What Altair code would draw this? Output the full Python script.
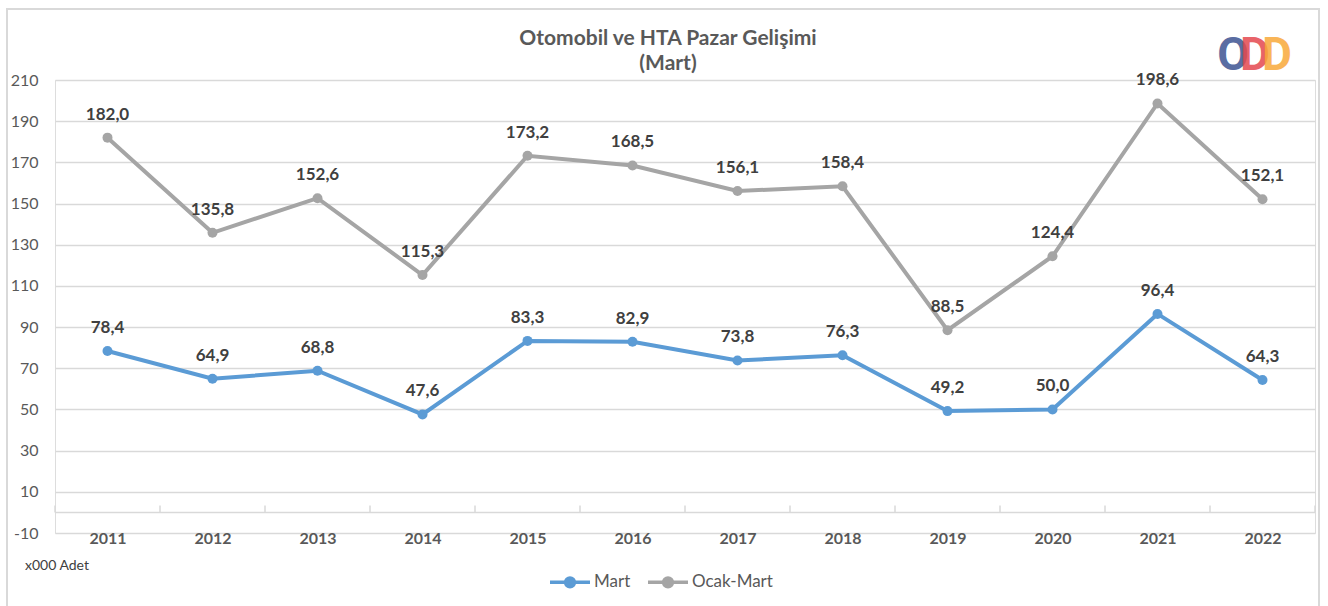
import altair as alt
import pandas as pd

years = ["2011", "2012", "2013", "2014", "2015", "2016", "2017", "2018", "2019", "2020", "2021", "2022"]
mart = [78.4, 64.9, 68.8, 47.6, 83.3, 82.9, 73.8, 76.3, 49.2, 50.0, 96.4, 64.3]
ocak_mart = [182.0, 135.8, 152.6, 115.3, 173.2, 168.5, 156.1, 158.4, 88.5, 124.4, 198.6, 152.1]
series_names = ["Mart", "Ocak-Mart"]
series_colors = ["#5B9BD5", "#A5A5A5"]
y_ticks = [-10, 10, 30, 50, 70, 90, 110, 130, 150, 170, 190, 210]
title_lines = ["Otomobil ve HTA Pazar Gelişimi", "(Mart)"]
unit_note = "x000 Adet"
logo_letters = ["O", "D", "D"]
logo_colors = ["#3E5492", "#E5484F", "#F8A93A"]

FONT = "Lato"
W, H = 1260, 453

rows = []
for i, yr in enumerate(years):
    for name, vals in zip(series_names, [mart, ocak_mart]):
        rows.append({"idx": i, "year": yr, "series": name, "value": vals[i],
                     "label": f"{vals[i]:.1f}".replace(".", ",")})
df = pd.DataFrame(rows)

n = len(years)
label_expr = "[" + ",".join(f"'{y}'" for y in years) + "][datum.value]"

x_enc = alt.X("idx:Q",
              scale=alt.Scale(domain=[-0.5, n - 0.5], nice=False, zero=False),
              axis=alt.Axis(values=list(range(n)), labelExpr=label_expr, ticks=False, domain=False,
                            grid=False, labelFont=FONT, labelFontSize=16, labelFontWeight="bold",
                            labelColor="#595959", labelBaseline="middle", labelPadding=5),
              title=None)
y_scale = alt.Scale(domain=[-10, 210], nice=False, zero=False)
y_enc = alt.Y("value:Q", scale=y_scale,
              axis=alt.Axis(values=y_ticks, grid=True, gridColor="#D9D9D9", gridWidth=1.3,
                            ticks=False, domain=False, labelFont=FONT, labelFontSize=16,
                            labelExpr="datum.value < 0 ? '-' + abs(datum.value) : '' + datum.value",
                            labelColor="#595959", labelPadding=17),
              title=None)

legend_path = "M-1,0L1,0M0.22,0A0.22,0.22,0,1,1,-0.22,0A0.22,0.22,0,1,1,0.22,0Z"
leg = alt.Legend(title=None, orient="none", legendX=493, legendY=480,
                 direction="horizontal", symbolType=legend_path,
                 symbolSize=1600, symbolStrokeWidth=3.5,
                 labelFont=FONT, labelFontSize=17, labelColor="#595959",
                 columnPadding=10, labelOffset=2)
color_leg = alt.Color("series:N", scale=alt.Scale(domain=series_names, range=series_colors), legend=leg)

base = alt.Chart(df)

# border frame
frame = alt.Chart(pd.DataFrame({"a": [0]})).mark_rect(fill=None, stroke="#D9D9D9", strokeWidth=2).encode(
    x=alt.value(-48), x2=alt.value(1264), y=alt.value(-71), y2=alt.value(560))

# category axis line at zero with boundary ticks
axis_df = pd.DataFrame({"x0": [-0.5], "x1": [n - 0.5], "y": [0]})
axis_line = alt.Chart(axis_df).mark_rule(color="#D9D9D9", strokeWidth=1.5).encode(
    x=alt.X("x0:Q", scale=alt.Scale(domain=[-0.5, n - 0.5], nice=False, zero=False)),
    x2="x1:Q", y=alt.Y("y:Q", scale=y_scale))
tick_df = pd.DataFrame({"b": [i - 0.5 for i in range(n + 1)], "y": [0] * (n + 1), "y2": [3.4] * (n + 1)})
ticks = alt.Chart(tick_df).mark_rule(color="#D9D9D9", strokeWidth=1.5).encode(
    x=alt.X("b:Q", scale=alt.Scale(domain=[-0.5, n - 0.5], nice=False, zero=False)),
    y=alt.Y("y:Q", scale=y_scale), y2="y2:Q")

lines = base.mark_line(strokeWidth=4).encode(x=x_enc, y=y_enc, color=color_leg)
points = base.mark_circle(size=100, opacity=1).encode(x=x_enc, y=y_enc, color=color_leg)
labels = base.mark_text(dy=-23, font=FONT, fontSize=17, fontWeight="bold", color="#404040").encode(
    x=x_enc, y=y_enc, text="label:N")

title_df = pd.DataFrame({"t": title_lines, "py": [-41, -16]})
title = alt.Chart(title_df).mark_text(
    align="center", baseline="middle", font=FONT, fontSize=21, fontWeight="bold", color="#595959").encode(
    x=alt.value(613), y=alt.Y("py:Q", scale=None), text="t:N")

note = alt.Chart(pd.DataFrame({"t": [unit_note]})).mark_text(
    align="left", baseline="middle", font=FONT, fontSize=14, color="#404040").encode(
    x=alt.value(-30), y=alt.value(486), text="t:N")

logo_df = pd.DataFrame({"t": logo_letters, "c": logo_colors, "px": [1178, 1200, 1222]})
logo = alt.Chart(logo_df).mark_text(
    font="Roboto", fontSize=46, fontWeight="bold", opacity=0.85, baseline="middle").encode(
    x=alt.X("px:Q", scale=None), y=alt.value(-24), text="t:N", color=alt.Color("c:N", scale=None, legend=None))

chart = alt.layer(frame, axis_line, ticks, lines, points, labels, title, note, logo).properties(
    width=W, height=H,
    padding={"left": 55, "top": 80, "right": 13, "bottom": 73},
    autosize=alt.AutoSizeParams(type="none"),
).configure_view(stroke=None).configure(background="white")

chart.save("out.html", embed_options={"renderer": "svg", "actions": False})
